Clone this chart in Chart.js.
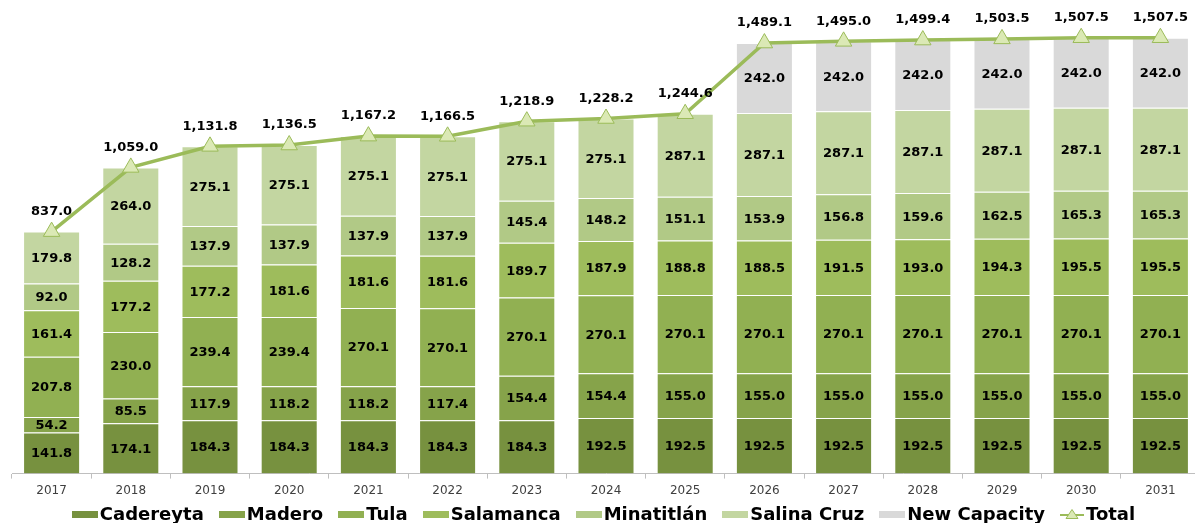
<!DOCTYPE html>
<html>
<head>
<meta charset="utf-8">
<title>Refinery capacity</title>
<script src="https://cdn.jsdelivr.net/npm/chart.js@4/dist/chart.umd.min.js"></script>
<style>
  html, body { margin: 0; padding: 0; background: #fff; overflow: hidden; }
  #wrap { position: relative; width: 1195px; height: 523px; overflow: hidden; }
  #chart { display: block; }
  #legend {
    position: absolute; left: 0; top: 505px; width: 1195px; box-sizing: border-box;
    padding-left: 12px;
    display: flex; justify-content: center; align-items: center;
    font: bold 18px "DejaVu Sans", Verdana, sans-serif; line-height: 18px; color: #000;
    white-space: nowrap;
  }
  #legend .item { display: flex; flex-shrink: 0; align-items: center; margin-right: 15px; }
  #legend .item:last-child { margin-right: 0; }
  #legend canvas { display: block; margin-right: 2px; }
</style>
</head>
<body>
<div id="wrap">
  <canvas id="chart" width="1200" height="523"></canvas>
  <div id="legend"></div>
</div>
<script>
// --- data ---
const years = ['2017', '2018', '2019', '2020', '2021', '2022', '2023', '2024', '2025', '2026', '2027', '2028', '2029', '2030', '2031'];

const cadereyta   = [141.8, 174.1, 184.3, 184.3, 184.3, 184.3, 184.3, 192.5, 192.5, 192.5, 192.5, 192.5, 192.5, 192.5, 192.5];
const madero      = [54.2, 85.5, 117.9, 118.2, 118.2, 117.4, 154.4, 154.4, 155.0, 155.0, 155.0, 155.0, 155.0, 155.0, 155.0];
const tula        = [207.8, 230.0, 239.4, 239.4, 270.1, 270.1, 270.1, 270.1, 270.1, 270.1, 270.1, 270.1, 270.1, 270.1, 270.1];
const salamanca   = [161.4, 177.2, 177.2, 181.6, 181.6, 181.6, 189.7, 187.9, 188.8, 188.5, 191.5, 193.0, 194.3, 195.5, 195.5];
const minatitlan  = [92.0, 128.2, 137.9, 137.9, 137.9, 137.9, 145.4, 148.2, 151.1, 153.9, 156.8, 159.6, 162.5, 165.3, 165.3];
const salinaCruz  = [179.8, 264.0, 275.1, 275.1, 275.1, 275.1, 275.1, 275.1, 287.1, 287.1, 287.1, 287.1, 287.1, 287.1, 287.1];
const newCapacity = [null, null, null, null, null, null, null, null, null, 242.0, 242.0, 242.0, 242.0, 242.0, 242.0];
const totals      = [837.0, 1059.0, 1131.8, 1136.5, 1167.2, 1166.5, 1218.9, 1228.2, 1244.6, 1489.1, 1495.0, 1499.4, 1503.5, 1507.5, 1507.5];

const barSeries = [
  { label: 'Cadereyta',    data: cadereyta,   color: '#77913f' },
  { label: 'Madero',       data: madero,      color: '#86a34a' },
  { label: 'Tula',         data: tula,        color: '#91b052' },
  { label: 'Salamanca',    data: salamanca,   color: '#9ebc5c' },
  { label: 'Minatitlán',   data: minatitlan,  color: '#b1c986' },
  { label: 'Salina Cruz',  data: salinaCruz,  color: '#c3d6a1' },
  { label: 'New Capacity', data: newCapacity, color: '#d9d9d9' }
];

const lineColor = '#9bbb59';
const markerFill = '#dbe9b5';
const fontFamily = '"DejaVu Sans", Verdana, sans-serif';

// small swatches used as legend symbols
function boxSwatch(color) {
  const c = document.createElement('canvas');
  c.width = 26; c.height = 7;
  const g = c.getContext('2d');
  g.fillStyle = color;
  g.fillRect(0, 0, 26, 7);
  return c;
}

function lineSwatch() {
  const c = document.createElement('canvas');
  c.width = 24; c.height = 12;
  const g = c.getContext('2d');
  g.strokeStyle = lineColor;
  g.lineWidth = 2;
  g.beginPath(); g.moveTo(0, 7); g.lineTo(24, 7); g.stroke();
  g.fillStyle = markerFill;
  g.lineWidth = 1;
  g.beginPath(); g.moveTo(12, 1.5); g.lineTo(18, 10.5); g.lineTo(6, 10.5); g.closePath();
  g.fill(); g.stroke();
  return c;
}

const datasets = barSeries.map(s => ({
  type: 'bar',
  label: s.label,
  data: s.data,
  backgroundColor: s.color,
  borderColor: 'rgba(255,255,255,0.75)',
  borderWidth: 1,
  stack: 'plants',
  order: 1,
  legendSymbol: () => boxSwatch(s.color)
}));

datasets.push({
  type: 'line',
  label: 'Total',
  data: totals,
  borderColor: lineColor,
  borderWidth: 3.5,
  pointStyle: 'triangle',
  pointRadius: 9.5,
  pointBackgroundColor: markerFill,
  pointBorderColor: lineColor,
  pointBorderWidth: 1,
  stack: 'total',
  order: 0,
  clip: false,
  legendSymbol: lineSwatch
});

const fmtSeg = v => v.toFixed(1);
const fmtTotal = v => v.toLocaleString('en-US', { minimumFractionDigits: 1, maximumFractionDigits: 1 });

// value labels: centered inside bar segments, above the total markers
const valueLabels = {
  id: 'valueLabels',
  afterDatasetsDraw(chart) {
    const ctx = chart.ctx;
    ctx.save();
    ctx.font = 'bold 13px ' + fontFamily;
    ctx.fillStyle = '#000';
    ctx.textAlign = 'center';
    ctx.textBaseline = 'middle';
    chart.data.datasets.forEach((ds, i) => {
      const meta = chart.getDatasetMeta(i);
      meta.data.forEach((el, j) => {
        const v = ds.data[j];
        if (v == null) return;
        if (ds.type === 'bar') {
          const mid = (el.y + el.base) / 2;
          ctx.fillText(fmtSeg(v), el.x, mid + 1);
        } else {
          ctx.fillText(fmtTotal(v), el.x, el.y - 20);
        }
      });
    });
    ctx.restore();
  }
};

// legend built as html from the chart's datasets
const htmlLegend = {
  id: 'htmlLegend',
  afterUpdate(chart) {
    const box = document.getElementById('legend');
    box.innerHTML = '';
    chart.data.datasets.forEach(ds => {
      const item = document.createElement('div');
      item.className = 'item';
      item.appendChild(ds.legendSymbol());
      const txt = document.createElement('span');
      txt.textContent = ds.label;
      item.appendChild(txt);
      box.appendChild(item);
    });
  }
};

new Chart(document.getElementById('chart'), {
  data: { labels: years, datasets: datasets },
  options: {
    responsive: false,
    animation: false,
    devicePixelRatio: 1,
    layout: { autoPadding: false, padding: { left: 12, right: 0, top: 0, bottom: 20 } },
    datasets: {
      bar: { barPercentage: 0.72, categoryPercentage: 1 }
    },
    scales: {
      x: {
        stacked: true,
        grid: { display: true, drawOnChartArea: false, drawTicks: true, tickLength: 5, offset: true, color: '#bfbfbf' },
        border: { display: true, color: '#bfbfbf', width: 1 },
        ticks: { color: '#404040', font: { family: fontFamily, size: 12 }, padding: 5 }
      },
      y: {
        stacked: true,
        display: false,
        min: 0,
        max: 1638
      }
    },
    plugins: {
      tooltip: { enabled: false },
      legend: { display: false }
    }
  },
  plugins: [valueLabels, htmlLegend]
});
</script>
</body>
</html>
